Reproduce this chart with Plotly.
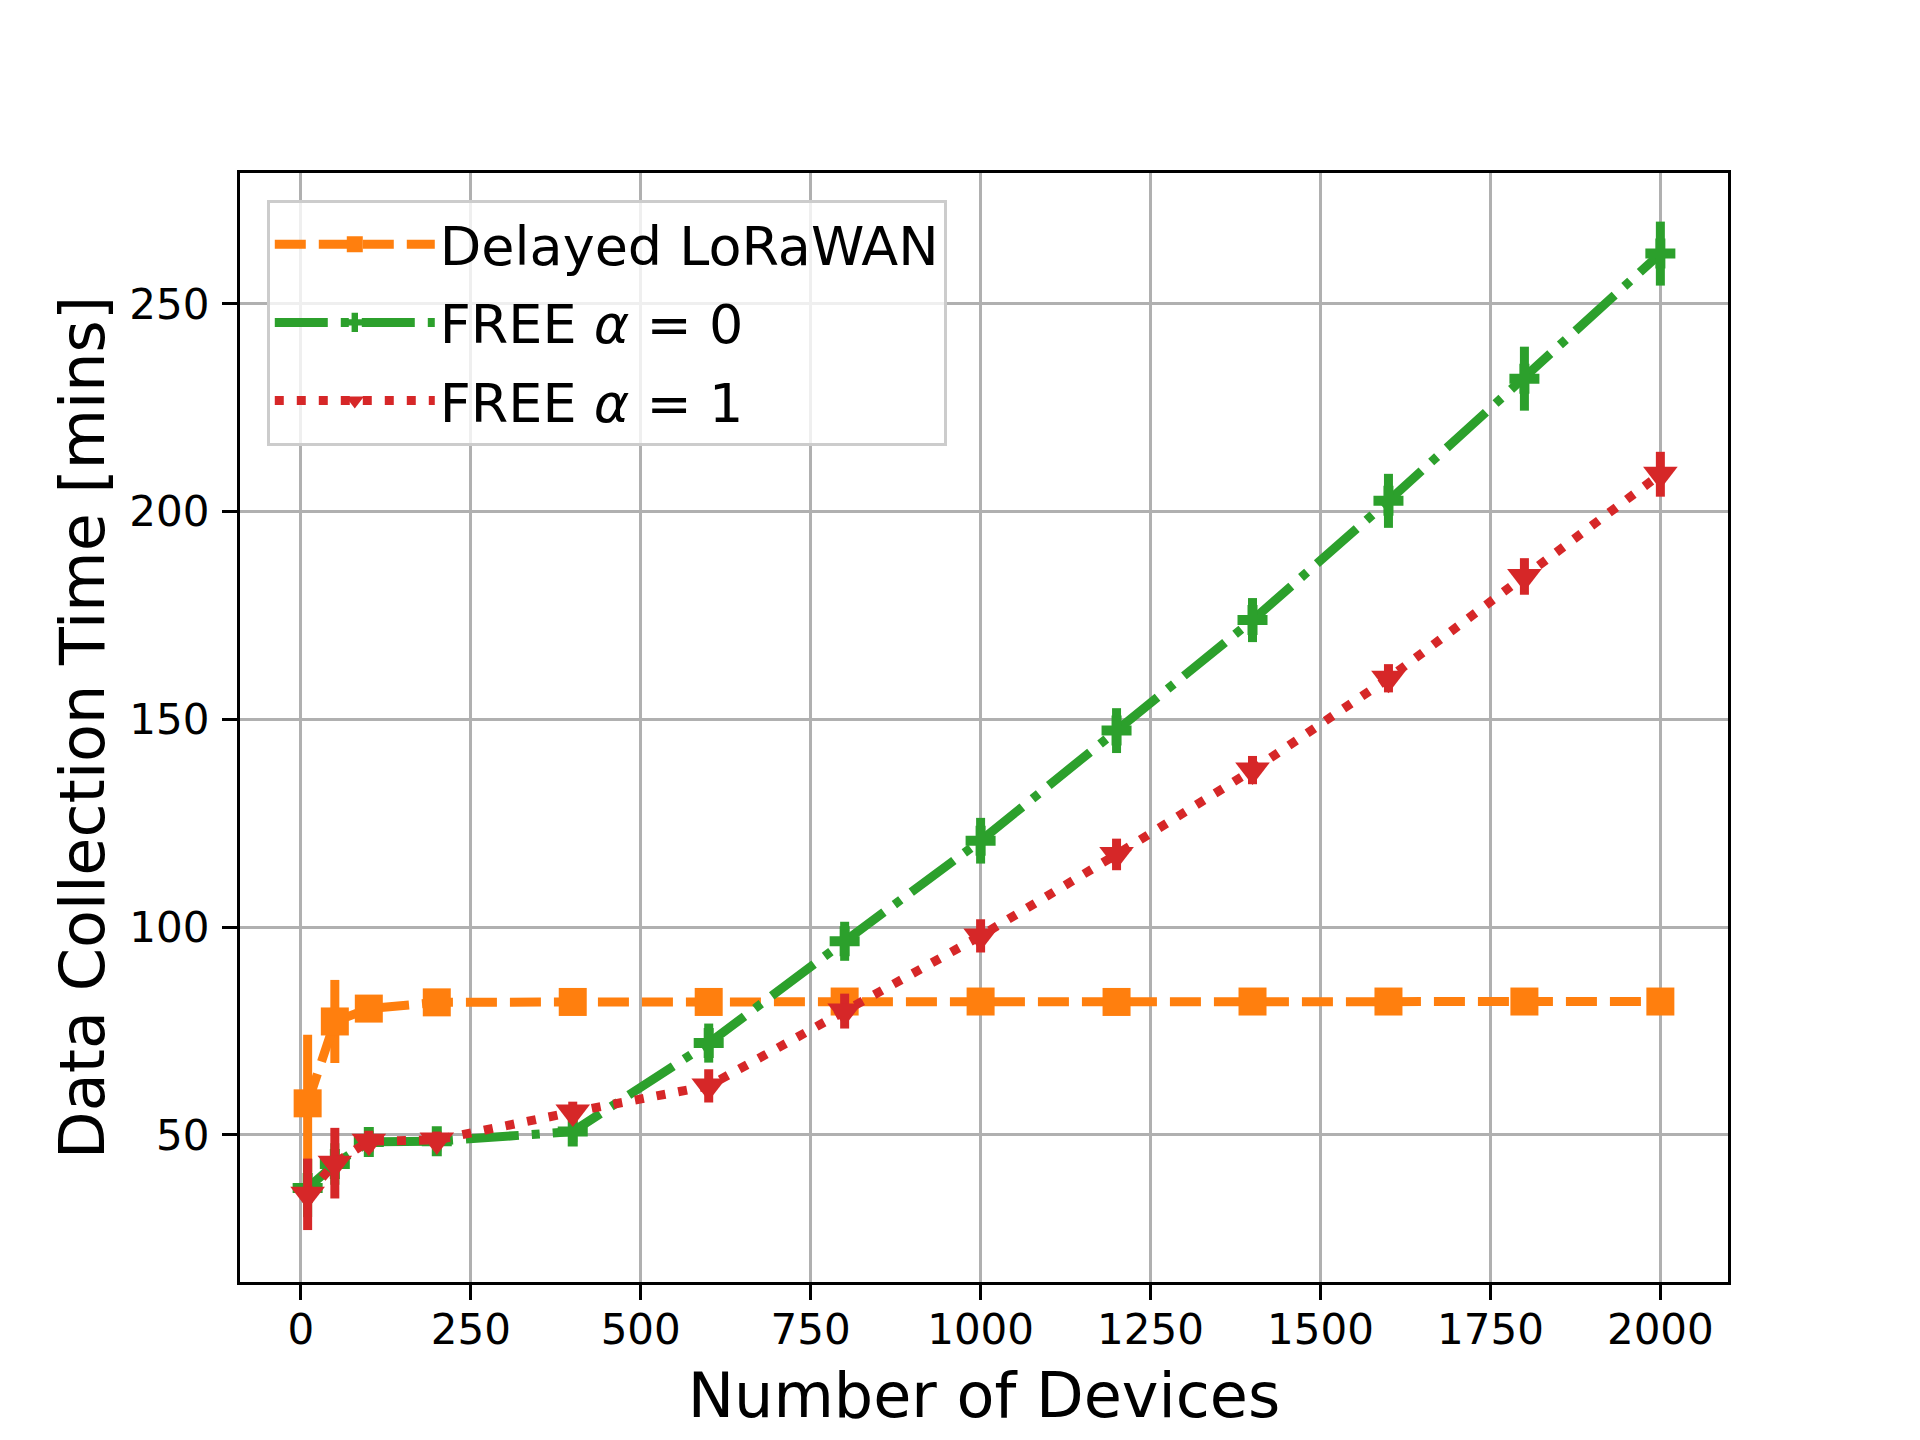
import plotly.graph_objects as go

devices = [10, 50, 100, 200, 400, 600, 800, 1000, 1200, 1400, 1600, 1800, 2000]

lorawan = [57.6, 77.3, 80.4, 81.9, 82.0, 82.0, 82.1, 82.1, 82.0, 82.1, 82.1, 82.1, 82.1]
lorawan_err = [16.5, 10.0, 2.0, 1.0, 0.5, 0.5, 0.5, 0.5, 0.5, 0.5, 0.5, 0.5, 0.5]

free_a0 = [37.2, 43.0, 48.3, 48.5, 50.8, 72.1, 96.6, 120.8, 147.3, 173.9, 202.6, 232.0, 262.1]
free_a0_err = [7.0, 5.0, 2.5, 2.5, 2.5, 4.7, 4.7, 5.5, 5.4, 5.3, 6.5, 7.7, 7.7]

free_a1 = [35.7, 43.2, 48.5, 48.8, 55.5, 61.8, 79.8, 97.9, 117.5, 137.8, 159.9, 184.4, 209.0]
free_a1_err = [8.6, 8.5, 2.5, 2.0, 2.5, 4.0, 4.2, 4.0, 3.8, 3.4, 3.4, 4.4, 5.4]

names = ["Delayed LoRaWAN", "FREE <i>α</i> = 0", "FREE <i>α</i> = 1"]
colors = ["#ff7f0e", "#2ca02c", "#d62728"]
dashes = ["31px,13px", "53px,13px,8px,13px", "9px,13px"]
symbols = ["square", "cross", "triangle-down"]
msizes = [28, 25, 30]

fig = go.Figure()
for i, (y, e, n, c, d, s, ms) in enumerate(zip([lorawan, free_a0, free_a1],
                                 [lorawan_err, free_a0_err, free_a1_err],
                                 names, colors, dashes, symbols, msizes)):
    fig.add_trace(go.Scatter(
        x=devices, y=y, name=n, mode="lines+markers", legendgroup=f"g{i}",
        line=dict(color=c, width=9, dash=d),
        marker=dict(symbol=s, size=ms, color=c, line=dict(width=0)),
        error_y=dict(type="data", array=e, visible=True, color=c, thickness=9, width=0),
    ))

font = "DejaVu Sans, Arial, sans-serif"
axis_common = dict(
    showline=True, linecolor="black", linewidth=3.3, mirror=True,
    showgrid=True, gridcolor="#b0b0b0", gridwidth=3.3,
    ticks="outside", ticklen=15, tickwidth=3.3, tickcolor="black",
    tickfont=dict(family=font, size=42, color="black"),
    zeroline=False, automargin=False,
)

fig.update_layout(
    width=1920, height=1440,
    margin=dict(l=240, r=192, t=173, b=158),
    paper_bgcolor="white", plot_bgcolor="white",
    font=dict(family=font, color="black"),
    showlegend=True,
    legend=dict(
        x=0.018, y=0.976, xanchor="left", yanchor="top",
        bgcolor="rgba(255,255,255,0.8)", bordercolor="#cccccc", borderwidth=3,
        font=dict(family=font, size=54, color="black"),
        itemwidth=160, tracegroupgap=5,
    ),
    xaxis=dict(
        range=[-89.5, 2099.5],
        tickvals=[0, 250, 500, 750, 1000, 1250, 1500, 1750, 2000],
        title=dict(text="Number of Devices", font=dict(family=font, size=62, color="black"), standoff=22),
        ticklabelstandoff=-7,
        **axis_common,
    ),
    yaxis=dict(
        range=[14.6, 281.5],
        tickvals=[50, 100, 150, 200, 250],
        title=dict(text="Data Collection Time [mins]", font=dict(family=font, size=62, color="black"), standoff=5),
        ticklabelstandoff=4,
        **axis_common,
    ),
)

fig.write_html("out.html")
